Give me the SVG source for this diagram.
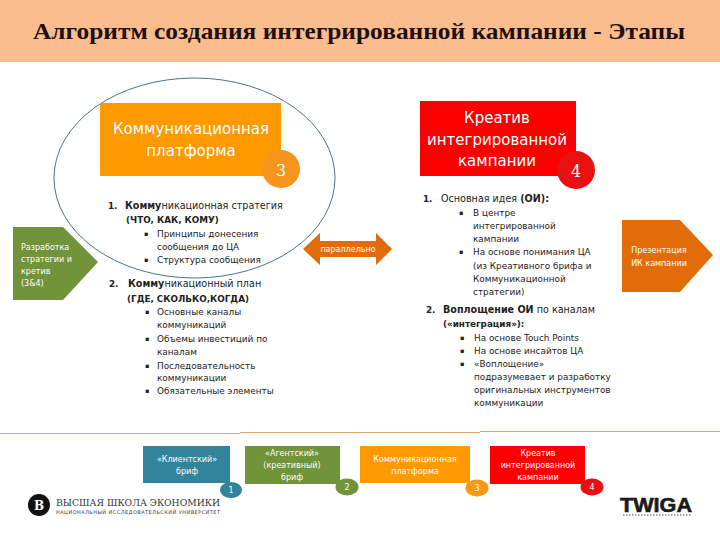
<svg xmlns="http://www.w3.org/2000/svg" width="720" height="540" viewBox="0 0 720 540">
<style>
text{font-family:"DejaVu Sans","Liberation Sans",sans-serif;fill:#222}
.h{font-size:9.600px}
.b{font-size:8.800px;font-weight:bold}
.w{fill:#fff;text-anchor:middle}
.c{font-size:15px}
.s{font-size:8.900px}
.d{font-size:6.500px}
.n{font-family:"DejaVu Serif",serif;font-size:16px}
.m{font-size:8px}
.l{fill:#fff;font-size:8px}
</style>
<rect width="720" height="540" fill="#fff"/>
<rect id="header" width="720" height="62" fill="#f9bd8d"/>
<rect y="56" width="720" height="3" fill="#f6c294"/>
<text x="33" y="39" textLength="652" lengthAdjust="spacingAndGlyphs" style="font-family:'Liberation Serif',serif;font-size:23px;font-weight:bold;fill:#1f0f0f">Алгоритм создания интегрированной кампании - Этапы</text>
<g id="connectors">
<ellipse cx="194.500" cy="178" rx="140.500" ry="100" fill="none" stroke="#4a7391" stroke-width="1"/>
<path d="M0 433.500H240M240 432.500H480M480 431.500H720" stroke="#e0a868" stroke-width="1.200" fill="none"/>
</g>
<g id="node-platform">
<rect x="100" y="103" width="181" height="73" fill="#ff9900"/>
<circle cx="281" cy="169" r="19" fill="#f7941d"/>
<text class="w c" x="191" y="134">Коммуникационная</text>
<text class="w c" x="191" y="156">платформа</text>
<text class="n w" x="281" y="176">3</text>
</g>
<g id="node-creative">
<rect x="420" y="101" width="156" height="75" fill="#fb0000"/>
<circle cx="576" cy="170" r="19" fill="#e81010"/>
<text class="w c" x="497" y="123">Креатив</text>
<text class="w c" x="497" y="145">интегрированной</text>
<text class="w c" x="497" y="166">кампании</text>
<text class="n w" x="576" y="177">4</text>
</g>
<g id="node-strategy">
<path d="M13 227H63L98 262L63 300H13Z" fill="#71933a"/>
<text class="l" x="21" y="250">Разработка</text>
<text class="l" x="21" y="262">стратегии и</text>
<text class="l" x="21" y="274">кретив</text>
<text class="l" x="21" y="286">(3&amp;4)</text>
</g>
<g id="node-parallel">
<path d="M303 249L320 233V241H376V233L392 249L376 265V257H320V265Z" fill="#e36c0a"/>
<text class="w m" x="348" y="252">параллельно</text>
</g>
<g id="node-present">
<path d="M622 220H680L713 255L680 292H622Z" fill="#e36c0a"/>
<text class="w m" x="659" y="253">Презентация</text>
<text class="w m" x="659" y="266">ИК кампании</text>
</g>
<g id="text-left">
<text class="b" x="108" y="209">1.</text><text class="h" x="125" y="209"><tspan font-weight="bold">Комму</tspan>никационная стратегия</text>
<text class="b" x="126" y="223">(ЧТО, КАК, КОМУ)</text>
<text class="d" x="144" y="236">▪</text><text class="s" x="157" y="237">Принципы донесения</text>
<text class="s" x="157" y="250">сообщения до ЦА</text>
<text class="d" x="144" y="262">▪</text><text class="s" x="157" y="263">Структура сообщения</text>
<text class="b" x="109" y="287">2.</text><text class="h" x="128" y="287"><tspan font-weight="bold">Комму</tspan>никационный план</text>
<text class="b" x="127" y="302">(ГДЕ, СКОЛЬКО,КОГДА)</text>
<text class="d" x="145" y="314">▪</text><text class="s" x="157" y="315">Основные каналы</text>
<text class="s" x="157" y="328">коммуникаций</text>
<text class="d" x="145" y="341">▪</text><text class="s" x="157" y="342">Объемы инвестиций по</text>
<text class="s" x="157" y="355">каналам</text>
<text class="d" x="145" y="368">▪</text><text class="s" x="157" y="369">Последовательность</text>
<text class="s" x="157" y="381">коммуникации</text>
<text class="d" x="145" y="393">▪</text><text class="s" x="157" y="394">Обязательные элементы</text>
</g>
<g id="text-right">
<text class="b" x="423" y="202">1.</text><text class="h" x="441" y="202">Основная идея <tspan font-weight="bold">(ОИ):</tspan></text>
<text class="d" x="459" y="215">▪</text><text class="s" x="473" y="216">В центре</text>
<text class="s" x="473" y="229">интегрированной</text>
<text class="s" x="473" y="242">кампании</text>
<text class="d" x="459" y="254">▪</text><text class="s" x="473" y="255">На основе понимания ЦА</text>
<text class="s" x="473" y="269">(из Креативного брифа и</text>
<text class="s" x="473" y="282">Коммуникационной</text>
<text class="s" x="473" y="295">стратегии)</text>
<text class="b" x="426" y="313">2.</text><text class="h" x="443" y="313"><tspan font-weight="bold">Воплощение ОИ</tspan> по каналам</text>
<text class="b" x="443" y="327">(«интеграция»):</text>
<text class="d" x="460" y="340">▪</text><text class="s" x="474" y="341">На основе Touch Points</text>
<text class="d" x="460" y="353">▪</text><text class="s" x="474" y="354">На основе инсайтов ЦА</text>
<text class="d" x="460" y="366">▪</text><text class="s" x="474" y="367">«Воплощение»</text>
<text class="s" x="474" y="380">подразумевает и разработку</text>
<text class="s" x="474" y="393">оригинальных инструментов</text>
<text class="s" x="474" y="406">коммуникации</text>
</g>
<g id="node-brief1">
<rect x="143" y="446" width="87" height="37" fill="#31849b"/>
<ellipse cx="231" cy="490" rx="11" ry="8" fill="#31849b"/>
<text class="w m" x="187" y="462">«Клиентский»</text>
<text class="w m" x="187" y="474">бриф</text>
<text class="w m" x="231" y="493">1</text>
</g>
<g id="node-brief2">
<rect x="245" y="446" width="95" height="38" fill="#71933a"/>
<ellipse cx="347" cy="487" rx="11.500" ry="8.500" fill="#71933a"/>
<text class="w m" x="292" y="456">«Агентский»</text>
<text class="w m" x="292" y="468">(креативный)</text>
<text class="w m" x="292" y="480">бриф</text>
<text class="w m" x="347" y="490">2</text>
</g>
<g id="node-brief3">
<rect x="360" y="446" width="110" height="37" fill="#ff9900"/>
<ellipse cx="477" cy="488" rx="11.500" ry="8.500" fill="#f59a12"/>
<text class="w m" x="415" y="462">Коммуникационная</text>
<text class="w m" x="415" y="474">платформа</text>
<text class="w m" x="477" y="491">3</text>
</g>
<g id="node-brief4">
<rect x="490" y="446" width="95" height="38" fill="#fb0000"/>
<ellipse cx="592" cy="487" rx="11.500" ry="8.500" fill="#e81010"/>
<text class="w m" x="538" y="456">Креатив</text>
<text class="w m" x="538" y="468">интегрированной</text>
<text class="w m" x="538" y="480">кампании</text>
<text class="w m" x="592" y="490">4</text>
</g>
<g id="logo-hse">
<circle cx="39" cy="505" r="11" fill="#111"/>
<text x="39" y="510" text-anchor="middle" style="font-family:'DejaVu Serif',serif;font-size:12px;fill:#fff;font-weight:bold">В</text>
<text x="56" y="506" textLength="164" lengthAdjust="spacingAndGlyphs" style="font-family:'DejaVu Serif',serif;font-size:9.500px;fill:#333">ВЫСШАЯ ШКОЛА ЭКОНОМИКИ</text>
<text x="56" y="514" textLength="164" lengthAdjust="spacing" style="font-size:5px;fill:#444">НАЦИОНАЛЬНЫЙ ИССЛЕДОВАТЕЛЬСКИЙ УНИВЕРСИТЕТ</text>
</g>
<g id="logo-twiga">
<text x="620" y="512" textLength="72" lengthAdjust="spacingAndGlyphs" style="font-family:'Liberation Sans',sans-serif;font-size:20px;font-weight:bold;fill:#1a1a1a;stroke:#1a1a1a;stroke-width:.6">TWIGA</text>
<path d="M623 515H691" stroke="#888" stroke-width="1.500" stroke-dasharray="1.500 1.500" fill="none"/>
</g>
</svg>
